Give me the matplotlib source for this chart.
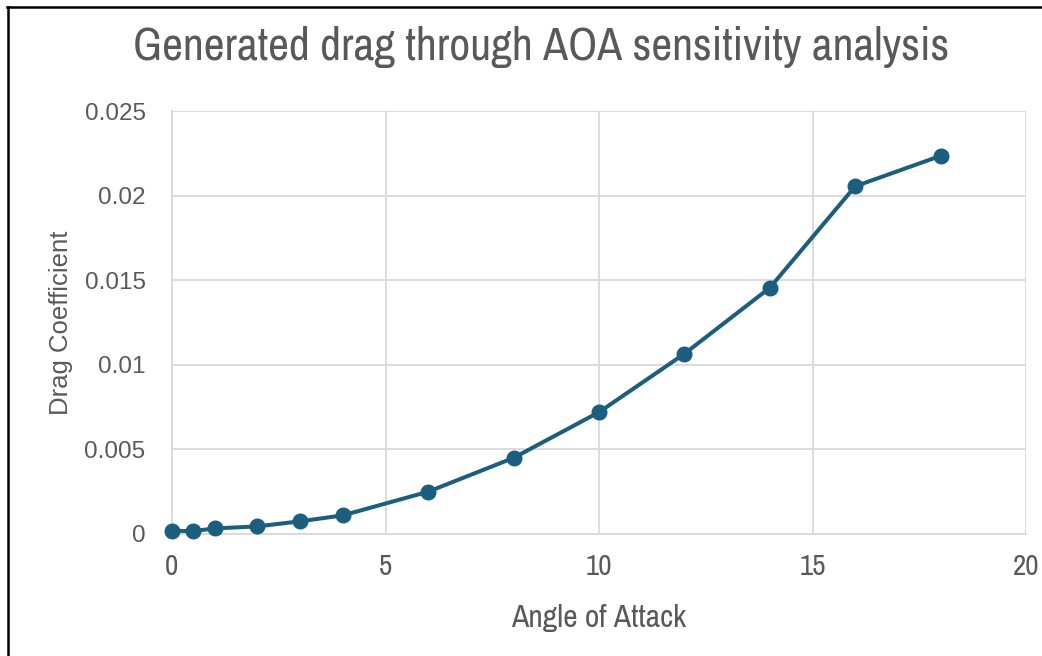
import matplotlib
matplotlib.use("Agg")
import matplotlib.pyplot as plt
from matplotlib.lines import Line2D
from matplotlib import font_manager
from matplotlib.font_manager import FontProperties

# Data
angle_of_attack = [0, 0.5, 1, 2, 3, 4, 6, 8, 10, 12, 14, 16, 18]
drag_coefficient = [0.00019, 0.00017, 0.00033, 0.00045, 0.00075, 0.0011,
                    0.0025, 0.0045, 0.0072, 0.01065, 0.01455, 0.02055, 0.02235]
x_ticks = [0, 5, 10, 15, 20]
y_ticks = [0, 0.005, 0.01, 0.015, 0.02, 0.025]
y_tick_labels = ["0", "0.005", "0.01", "0.015", "0.02", "0.025"]

title = "Generated drag through AOA sensitivity analysis"
xlabel = "Angle of Attack"
ylabel = "Drag Coefficient"

# Font selection: look for a narrow/condensed face, else Liberation Sans
narrow_file = None
cands = []
for f in font_manager.fontManager.ttflist:
    nm = f.name.lower()
    st = str(f.stretch).lower()
    if f.style != "normal":
        continue
    if f.weight not in (400, "normal", "regular"):
        continue
    score = None
    if "narrow" in nm:
        score = 0
    elif "condensed" in nm or st in ("condensed", "semi-condensed"):
        score = 1
    if score is not None:
        cands.append((score, f.fname))
if cands:
    cands.sort()
    narrow_file = cands[0][1]

def narrow_fp(size):
    if narrow_file:
        return FontProperties(fname=narrow_file, size=size)
    return FontProperties(family="Liberation Sans", size=size)

def regular_fp(size):
    return FontProperties(family=["Liberation Sans", "DejaVu Sans"], size=size)

text_color = "#595959"
grid_color = "#d9d9d9"
line_color = "#1b5e7d"

W, H = 1042, 656
fig = plt.figure(figsize=(W / 100, H / 100), dpi=100)
fig.patch.set_facecolor("white")

ax = fig.add_axes([172 / W, (H - 534) / H, (1026 - 172) / W, (534 - 111) / H])
ax.plot(angle_of_attack, drag_coefficient, color=line_color, linewidth=2.9,
        marker="o", markersize=10.5, markerfacecolor=line_color,
        markeredgecolor=line_color, clip_on=False, zorder=3)

ax.set_xlim(0, 20)
ax.set_ylim(0, 0.025)
ax.set_xticks(x_ticks)
ax.set_xticklabels([str(t) for t in x_ticks], color=text_color)
for lab in ax.get_xticklabels():
    lab.set_fontproperties(narrow_fp(21 if narrow_file else 16))
ax.set_yticks(y_ticks)
ax.set_yticklabels(y_tick_labels, color=text_color)
for lab in ax.get_yticklabels():
    lab.set_fontproperties(regular_fp(17.5))
ax.tick_params(axis="both", length=0)
ax.tick_params(axis="x", pad=14)
ax.tick_params(axis="y", pad=19)

ax.grid(True, color=grid_color, linewidth=1.3)
ax.set_axisbelow(True)
for s in ax.spines.values():
    s.set_visible(False)
for side in ("left", "bottom"):
    ax.spines[side].set_visible(True)
    ax.spines[side].set_color(grid_color)
    ax.spines[side].set_linewidth(1.3)

ax.set_xlabel(xlabel, color=text_color, labelpad=17)
ax.xaxis.label.set_fontproperties(narrow_fp(18))
ax.set_ylabel(ylabel, color=text_color, labelpad=8)
ax.yaxis.label.set_fontproperties(regular_fp(18.5))

t = fig.text(541 / W, 1 - 47 / H, title, ha="center", va="center", color=text_color)
t.set_fontproperties(narrow_fp(27))

# scale title / xlabel font sizes to match reference text widths
fig.canvas.draw()
r = fig.canvas.get_renderer()
def fit(txt, target):
    w = txt.get_window_extent(r).width
    fp = txt.get_fontproperties().copy()
    fp.set_size(fp.get_size() * target / w)
    txt.set_fontproperties(fp)
fit(t, 815)
fit(ax.xaxis.label, 175)

# Outer frame (top and left edges)
fig.add_artist(Line2D([8 / W, 8 / W], [0, 1 - 6.5 / H], transform=fig.transFigure,
                      color="black", linewidth=1.8))
fig.add_artist(Line2D([7 / W, 1], [1 - 6.5 / H, 1 - 6.5 / H], transform=fig.transFigure,
                      color="black", linewidth=1.8))

fig.savefig("out.png", dpi=100, facecolor="white")
